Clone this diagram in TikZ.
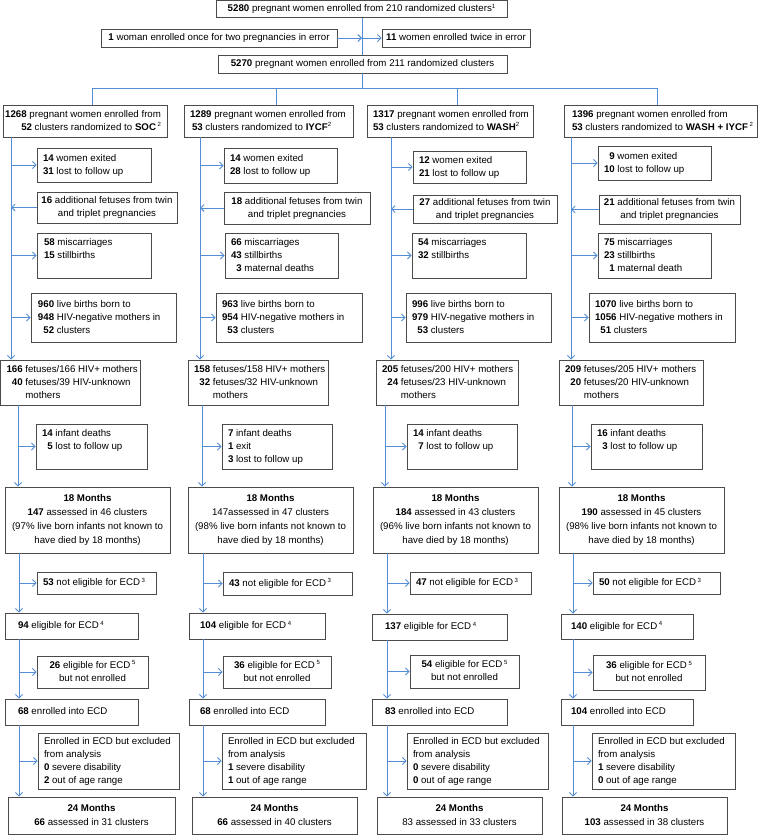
\documentclass[tikz,border=0pt]{standalone}
\usepackage{fontspec}
\setmainfont{Liberation Sans}
\usetikzlibrary{arrows.meta}
\definecolor{lblue}{RGB}{84,141,212}
\definecolor{bgray}{RGB}{75,75,75}
\newcommand{\su}[1]{\raisebox{3.6pt}{\fontsize{6}{6}\selectfont #1}}
\newcommand{\dg}{\phantom{0}}
\tikzset{
  box/.style={draw=bgray, line width=0.8pt, fill=white, inner xsep=6pt, inner ysep=0pt,
              font=\fontsize{9.7}{13}\selectfont},
  conn/.style={draw=lblue, line width=0.9pt},
  arr/.style={conn, -{Straight Barb[length=3.5pt,width=7pt]}},
}
\newcommand{\bx}[7][l]{%
  \pgfmathsetmacro\bxw{#5-#3}\pgfmathsetmacro\bxh{#6-#4}\pgfmathsetmacro\bxtw{#5-#3-12}%
  \pgfmathsetmacro\bxx{(#3+#5)/2}\pgfmathsetmacro\bxy{(#4+#6)/2}%
  \node[box, minimum width=\bxw pt, minimum height=\bxh pt] (#2) at (\bxx,\bxy)
    {\makebox[\bxtw pt][#1]{\begin{tabular}{@{}#1@{}}#7\end{tabular}}};}
\newcommand{\colconn}[4]{%
  \coordinate (#1la) at (#2,0);
  \coordinate (#1lb) at (#3,0);
  \coordinate (#1lc) at (#4,0);
  \draw[arr] (#10.south -| #1la) -- (#15.north -| #1la);
  \draw[arr] (#11.west -| #1la) -- (#11.west);
  \draw[arr] (#12.west) -- (#12.west -| #1la);
  \draw[arr] (#13.west -| #1la) -- (#13.west);
  \draw[arr] (#14.west -| #1la) -- (#14.west);
  \draw[arr] (#15.south -| #1lb) -- (#17.north -| #1lb);
  \draw[arr] (#16.west -| #1lb) -- (#16.west);
  \draw[arr] (#17.south -| #1lc) -- (#19.north -| #1lc);
  \draw[arr] (#19.south -| #1lc) -- (#111.north -| #1lc);
  \draw[arr] (#111.south -| #1lc) -- (#113.north -| #1lc);
  \draw[arr] (#18.west -| #1lc) -- (#18.west);
  \draw[arr] (#110.west -| #1lc) -- (#110.west);
  \draw[arr] (#112.west -| #1lc) -- (#112.west);
}
\begin{document}
\begin{tikzpicture}[x=1pt,y=-1pt]
\useasboundingbox[fill=white] (0,0) rectangle (758,835);

% top
\bx[c]{t1}{216}{0.6}{507}{17.5}{\textbf{5280} pregnant women enrolled from 210 randomized clusters\su{1}}
\bx[c]{t2}{101}{29}{337}{47}{\textbf{1} woman enrolled once for two pregnancies in error}
\bx[c]{t3}{382}{29}{530}{47}{\textbf{11} women enrolled twice in error}
\bx[c]{t4}{218}{55}{507}{73}{\textbf{5270} pregnant women enrolled from 211 randomized clusters}

% arms
\bx[r]{a0}{3}{105}{167}{137}{\textbf{1268} pregnant women enrolled from\\\textbf{52} clusters randomized to \textbf{SOC}\,\su{2}}
\bx{b0}{184}{105}{353}{137}{\textbf{1289} pregnant women enrolled from\\\hspace*{2pt}\textbf{53} clusters randomized to \textbf{IYCF}\su{2}}
\bx{c0}{367}{105}{533}{137}{\textbf{1317} pregnant women enrolled from\\\textbf{53} clusters randomized to \textbf{WASH}\su{2}}
\bx{d0}{564}{105}{757}{137}{\hspace*{2pt}\textbf{1396} pregnant women enrolled from\\\hspace*{2pt}\textbf{53} clusters randomized to \textbf{WASH + IYCF}\,\su{2}}

% column A
\bx{a1}{37}{148}{151}{182}{\textbf{14} women exited\\\textbf{31} lost to follow up}
\bx[c]{a2}{37}{192}{177}{223}{\textbf{16} additional fetuses from twin\\and triplet pregnancies}
\bx{a3}{37}{233}{151}{278}{\hspace*{1pt}\textbf{58} miscarriages\\\hspace*{1pt}\textbf{15} stillbirths\\\mbox{}}
\bx{a4}{31}{293}{176}{342}{\hspace*{1pt}\textbf{960} live births born to\\\hspace*{1pt}\textbf{948} HIV-negative mothers in\\\hspace*{1pt}\dg\textbf{52} clusters}
\bx{a5}{0.5}{360}{140}{405}{\textbf{166} fetuses/166 HIV+ mothers\\\dg\textbf{40} fetuses/39 HIV-unknown\\\phantom{\textbf{166}\ }mothers}
\bx{a6}{36}{424}{147}{469}{\textbf{14} infant deaths\\\dg\textbf{5} lost to follow up\\\mbox{}}
\bx[c]{a7}{5}{487}{170}{553}{\textbf{18 Months}\\[1pt]\textbf{147} assessed in 46 clusters\\[1pt](97\% live born infants not known to\\[1pt]have died by 18 months)}
\bx{a8}{37}{572}{156}{594}{\textbf{53} not eligible for ECD\,\su{3}}
\bx{a9}{5}{613}{138}{639}{\hspace*{7pt}\textbf{94} eligible for ECD\,\su{4}}
\bx[c]{a10}{37}{656}{148}{688}{\textbf{26} eligible for ECD\,\su{5}\\but not enrolled}
\bx{a11}{5}{699}{138}{725}{\hspace*{7pt}\textbf{68} enrolled into ECD}
\bx{a12}{38}{733}{179}{789}{Enrolled in ECD but excluded\\from analysis\\\textbf{0} severe disability\\\textbf{2} out of age range}
\bx[c]{a13}{8}{797}{175}{834}{\textbf{24 Months}\\[1pt]\textbf{66} assessed in 31 clusters}

% column B
\bx{b1}{224}{148}{337}{183}{\textbf{14} women exited\\\textbf{28} lost to follow up}
\bx[c]{b2}{224}{192}{370}{224}{\textbf{18} additional fetuses from twin\\and triplet pregnancies}
\bx{b3}{225}{233}{338}{278}{\textbf{66} miscarriages\\\textbf{43} stillbirths\\\dg\textbf{3} maternal deaths}
\bx{b4}{216}{293}{362}{342}{\textbf{963} live births born to\\\textbf{954} HIV-negative mothers in\\\dg\textbf{53} clusters}
\bx{b5}{188}{360}{328}{405}{\textbf{158} fetuses/158 HIV+ mothers\\\dg\textbf{32} fetuses/32 HIV-unknown\\\phantom{\textbf{158}\ }mothers}
\bx{b6}{222}{424}{332}{469}{\textbf{7} infant deaths\\\textbf{1} exit\\\textbf{3} lost to follow up}
\bx[c]{b7}{188}{487}{353}{553}{\textbf{18 Months}\\[1pt]147assessed in 47 clusters\\[1pt](98\% live born infants not known to\\[1pt]have died by 18 months)}
\bx{b8}{223}{572}{352}{595}{\textbf{43} not eligible for ECD\,\su{3}}
\bx{b9}{189}{613}{325}{639}{\hspace*{5pt}\textbf{104} eligible for ECD\,\su{4}}
\bx[c]{b10}{223}{656}{331}{688}{\textbf{36} eligible for ECD\,\su{5}\\but not enrolled}
\bx{b11}{189}{699}{325}{725}{\hspace*{5pt}\textbf{68} enrolled into ECD}
\bx{b12}{222}{733}{366}{789}{Enrolled in ECD but excluded\\from analysis\\\textbf{1} severe disability\\\textbf{1} out of age range}
\bx[c]{b13}{192}{797}{357}{834}{\textbf{24 Months}\\[1pt]\textbf{66} assessed in 40 clusters}

% column C
\bx{c1}{413}{151}{526}{183}{\textbf{12} women exited\\\textbf{21} lost to follow up}
\bx[c]{c2}{413}{195}{557}{223}{\textbf{27} additional fetuses from twin\\and triplet pregnancies}
\bx{c3}{412}{233}{526}{278}{\textbf{54} miscarriages\\\textbf{32} stillbirths\\\mbox{}}
\bx{c4}{406}{293}{551}{342}{\textbf{996} live births born to\\\textbf{979} HIV-negative mothers in\\\dg\textbf{53} clusters}
\bx{c5}{376}{360}{518}{405}{\textbf{205} fetuses/200 HIV+ mothers\\\dg\textbf{24} fetuses/23 HIV-unknown\\\phantom{\textbf{205}\ }mothers}
\bx{c6}{407}{424}{517}{469}{\textbf{14} infant deaths\\\dg\textbf{7} lost to follow up\\\mbox{}}
\bx[c]{c7}{373}{487}{538}{553}{\textbf{18 Months}\\[1pt]\textbf{184} assessed in 43 clusters\\[1pt](96\% live born infants not known to\\[1pt]have died by 18 months)}
\bx{c8}{410}{572}{531}{594}{\textbf{47} not eligible for ECD\,\su{3}}
\bx{c9}{372}{614}{507}{640}{\hspace*{7pt}\textbf{137} eligible for ECD\,\su{4}}
\bx[c]{c10}{410}{655}{519}{688}{\textbf{54} eligible for ECD\,\su{5}\\but not enrolled}
\bx{c11}{372}{699}{507}{725}{\hspace*{7pt}\textbf{83} enrolled into ECD}
\bx{c12}{407}{733}{548}{789}{Enrolled in ECD but excluded\\from analysis\\\textbf{0} severe disability\\\textbf{0} out of age range}
\bx[c]{c13}{377}{797}{542}{834}{\textbf{24 Months}\\[1pt]83 assessed in 33 clusters}

% column D
\bx{d1}{598}{146}{711}{180}{\dg\textbf{9} women exited\\\textbf{10} lost to follow up}
\bx[c]{d2}{599}{195}{740}{224}{\textbf{21} additional fetuses from twin\\and triplet pregnancies}
\bx{d3}{598}{233}{711}{278}{\textbf{75} miscarriages\\\textbf{23} stillbirths\\\dg\textbf{1} maternal death}
\bx{d4}{589}{293}{735}{342}{\textbf{1070} live births born to\\\textbf{1056} HIV-negative mothers in\\\dg\textbf{51} clusters}
\bx{d5}{559}{360}{703}{405}{\textbf{209} fetuses/205 HIV+ mothers\\\dg\textbf{20} fetuses/20 HIV-unknown\\\phantom{\textbf{209}\ }mothers}
\bx{d6}{591}{424}{702}{469}{\textbf{16} infant deaths\\\dg\textbf{3} lost to follow up\\\mbox{}}
\bx[c]{d7}{559}{487}{724}{553}{\textbf{18 Months}\\[1pt]\textbf{190} assessed in 45 clusters\\[1pt](98\% live born infants not known to\\[1pt]have died by 18 months)}
\bx{d8}{593}{572}{720}{594}{\textbf{50} not eligible for ECD\,\su{3}}
\bx{d9}{561}{614}{693}{639}{\hspace*{4pt}\textbf{140} eligible for ECD\,\su{4}}
\bx[c]{d10}{593}{655}{705}{690}{\textbf{36} eligible for ECD\,\su{5}\\but not enrolled}
\bx{d11}{561}{699}{693}{725}{\hspace*{4pt}\textbf{104} enrolled into ECD}
\bx{d12}{592}{733}{735}{789}{Enrolled in ECD but excluded\\from analysis\\\textbf{1} severe disability\\\textbf{0} out of age range}
\bx[c]{d13}{562}{797}{727}{834}{\textbf{24 Months}\\[1pt]\textbf{103} assessed in 38 clusters}

% top connectors
\coordinate (mx) at (362,0);
\coordinate (hb) at (362,88);
\coordinate (dA) at (92,88);
\coordinate (dB) at (276,88);
\coordinate (dC) at (457,88);
\coordinate (dD) at (657,88);
\draw[conn] (t1.south -| mx) -- (t4.north -| mx);
\draw[arr] (t2.east) -- (t2.east -| mx);
\draw[arr] (t3.west -| mx) -- (t3.west);
\draw[conn] (t4.south -| mx) -- (hb);
\draw[conn] (dA) -- (dD);
\draw[conn] (dA) -- (dA |- a0.north);
\draw[conn] (dB) -- (dB |- b0.north);
\draw[conn] (dC) -- (dC |- c0.north);
\draw[conn] (dD) -- (dD |- d0.north);

% column connectors
\colconn{a}{11}{18}{19}
\colconn{b}{200}{202}{203}
\colconn{c}{391}{385}{387}
\colconn{d}{571}{572}{573}
\end{tikzpicture}
\end{document}
